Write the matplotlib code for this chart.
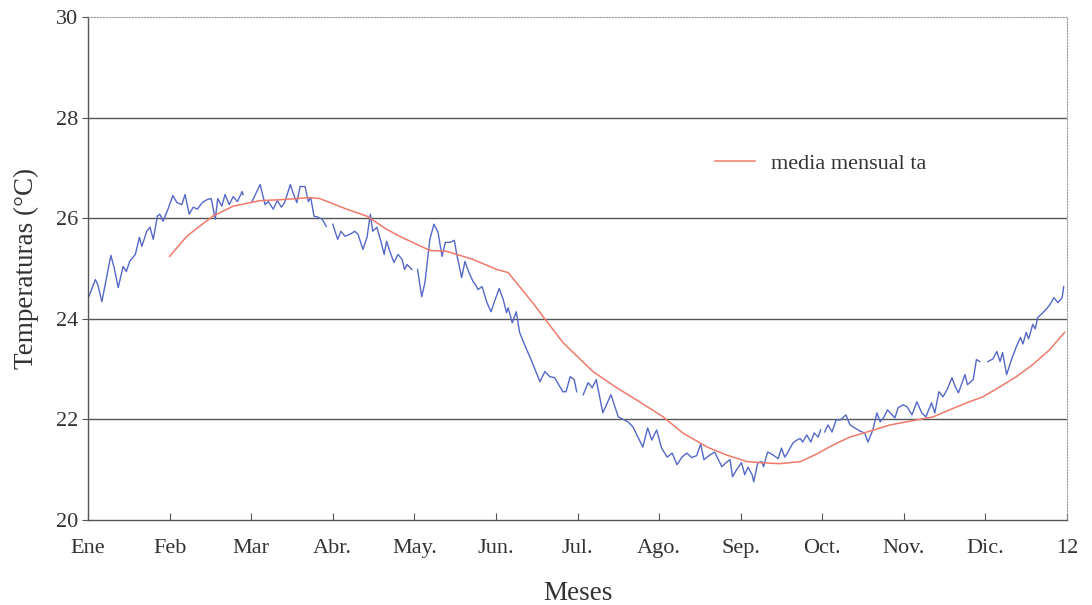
import numpy as np
import matplotlib
matplotlib.use("Agg")
import matplotlib.pyplot as plt

plt.rcParams['font.family'] = ['Liberation Serif', 'DejaVu Serif']

# Etiquetas de meses
month_labels = ['Ene', 'Feb', 'Mar', 'Abr.', 'May.', 'Jun.', 'Jul.', 'Ago.',
                'Sep.', 'Oct.', 'Nov.', 'Dic.', '12']
y_ticks = [20, 22, 24, 26, 28, 30]

# Temperatura diaria (posición en meses, °C); nan = hueco en la serie
daily_x = [
    0.01, 0.09, 0.12, 0.17, 0.23, 0.28, 0.32, 0.37, 0.43, 0.47, 0.51, 0.58, 0.63, 0.66,
    0.72, 0.76, 0.80, 0.85, 0.88, 0.92, 0.98, 1.04, 1.09, 1.15, 1.19, 1.24, 1.29, 1.34,
    1.40, 1.46, 1.51, 1.56, 1.59, 1.64, 1.68, 1.73, 1.78, 1.83, 1.89, 1.90, np.nan,
    2.01, 2.11, 2.17, 2.21, 2.27, 2.32, 2.37, 2.41, 2.48, 2.52, 2.56, 2.60, 2.66, 2.70,
    2.73, 2.77, 2.82, 2.87, 2.92, np.nan,
    3.00, 3.06, 3.10, 3.15, 3.21, 3.27, 3.31, 3.37, 3.42, 3.46, 3.49, 3.54, 3.59, 3.63,
    3.66, 3.70, 3.75, 3.80, 3.85, 3.88, 3.91, 3.97, np.nan,
    4.04, 4.09, 4.13, 4.19, 4.24, 4.29, 4.34, 4.38, 4.44, 4.49, 4.52, 4.58, 4.62, 4.67,
    4.72, 4.75, 4.78, 4.83, 4.89, 4.94, 4.99, 5.04, 5.09, 5.13, 5.15, 5.20, 5.25, 5.29,
    5.36, 5.42, 5.48, 5.54, 5.60, 5.66, 5.72, 5.77, 5.82, 5.86, 5.91, 5.96, 5.99, np.nan,
    6.07, 6.13, 6.18, 6.23, 6.31, 6.41, 6.50, 6.56, 6.62, 6.68, 6.74, 6.80, 6.86, 6.91,
    6.97, 7.03, 7.10, 7.16, 7.22, 7.28, 7.34, 7.40, 7.46, 7.51, 7.55, 7.62, 7.68, 7.77,
    7.82, 7.87, 7.90, 7.95, 8.01, 8.05, 8.09, 8.14, 8.16, 8.21, 8.26, 8.28, 8.33, 8.39,
    8.46, 8.50, 8.54, 8.58, 8.64, 8.69, 8.73, 8.76, 8.81, 8.86, 8.90, 8.95, 8.98, np.nan,
    9.03, 9.07, 9.12, 9.17, 9.22, 9.25, 9.29, 9.34, 9.40, 9.46, 9.52, 9.56, 9.62, 9.67,
    9.71, 9.75, 9.80, 9.85, 9.89, 9.93, 9.99, 10.04, 10.10, 10.16, 10.22, 10.27, 10.34,
    10.38, 10.43, 10.48, 10.53, 10.59, 10.63, 10.67, 10.75, 10.78, 10.85, 10.89, 10.93, np.nan,
    11.03, 11.09, 11.14, 11.18, 11.21, 11.26, 11.32, 11.38, 11.43, 11.46, 11.50, 11.53,
    11.58, 11.61, 11.64, 11.69, 11.74, 11.79, 11.84, 11.89, 11.94, 11.96,
]
daily_t = [
    24.44, 24.78, 24.68, 24.34, 24.84, 25.26, 25.02, 24.62, 25.04, 24.94, 25.14, 25.28, 25.62, 25.44,
    25.74, 25.82, 25.58, 26.04, 26.08, 25.94, 26.18, 26.45, 26.31, 26.27, 26.47, 26.08, 26.22, 26.18,
    26.31, 26.37, 26.39, 25.98, 26.39, 26.24, 26.47, 26.27, 26.43, 26.33, 26.53, 26.47, np.nan,
    26.33, 26.67, 26.27, 26.33, 26.18, 26.35, 26.22, 26.31, 26.67, 26.47, 26.31, 26.63, 26.63, 26.33,
    26.41, 26.04, 26.02, 25.98, 25.84, np.nan,
    25.88, 25.58, 25.74, 25.64, 25.68, 25.74, 25.68, 25.38, 25.62, 26.08, 25.74, 25.82, 25.54, 25.28,
    25.54, 25.34, 25.12, 25.28, 25.18, 24.98, 25.08, 24.98, np.nan,
    24.98, 24.44, 24.72, 25.58, 25.88, 25.72, 25.24, 25.52, 25.52, 25.56, 25.28, 24.82, 25.14, 24.92,
    24.74, 24.68, 24.58, 24.64, 24.32, 24.14, 24.38, 24.60, 24.38, 24.12, 24.22, 23.92, 24.14, 23.73,
    23.45, 23.23, 22.99, 22.75, 22.95, 22.85, 22.83, 22.69, 22.55, 22.55, 22.85, 22.79, 22.55, np.nan,
    22.49, 22.73, 22.63, 22.79, 22.13, 22.49, 22.05, 22.00, 21.95, 21.85, 21.65, 21.45, 21.83, 21.59,
    21.79, 21.43, 21.25, 21.33, 21.10, 21.25, 21.33, 21.24, 21.28, 21.51, 21.20, 21.29, 21.35, 21.06,
    21.14, 21.20, 20.86, 21.00, 21.14, 20.90, 21.05, 20.90, 20.76, 21.14, 21.16, 21.06, 21.35, 21.30,
    21.22, 21.43, 21.25, 21.35, 21.53, 21.59, 21.62, 21.55, 21.69, 21.55, 21.73, 21.65, 21.79, np.nan,
    21.75, 21.89, 21.75, 21.99, 21.99, 22.03, 22.09, 21.89, 21.83, 21.77, 21.73, 21.55, 21.79, 22.13,
    21.95, 22.03, 22.19, 22.10, 22.03, 22.23, 22.29, 22.25, 22.09, 22.35, 22.13, 22.05, 22.33,
    22.13, 22.55, 22.45, 22.59, 22.83, 22.65, 22.53, 22.89, 22.69, 22.79, 23.19, 23.15, np.nan,
    23.15, 23.20, 23.35, 23.15, 23.33, 22.89, 23.19, 23.45, 23.63, 23.50, 23.73, 23.60,
    23.89, 23.80, 24.02, 24.10, 24.18, 24.28, 24.42, 24.32, 24.42, 24.64,
]

# Media mensual
mean_x = [1.00, 1.21, 1.40, 1.53, 1.78, 2.11, 2.39, 2.72, 2.84, 3.17, 3.42, 3.66, 3.82, 4.03,
          4.19, 4.40, 4.72, 5.01, 5.15, 5.29, 5.45, 5.58, 5.82, 6.19, 6.48, 6.76, 7.05, 7.29,
          7.59, 7.83, 8.08, 8.24, 8.48, 8.73, 8.93, 9.13, 9.34, 9.55, 9.83, 10.16, 10.36,
          10.56, 10.77, 10.97, 11.18, 11.38, 11.58, 11.79, 11.97]
mean_t = [25.24, 25.64, 25.88, 26.04, 26.24, 26.35, 26.37, 26.41, 26.39, 26.18, 26.04, 25.78, 25.64, 25.48,
          25.36, 25.34, 25.18, 24.98, 24.92, 24.64, 24.32, 24.04, 23.53, 22.95, 22.63, 22.35, 22.05, 21.73,
          21.45, 21.29, 21.16, 21.14, 21.12, 21.16, 21.31, 21.49, 21.65, 21.75, 21.89, 21.99, 22.05,
          22.19, 22.33, 22.45, 22.65, 22.85, 23.09, 23.39, 23.73]

fig = plt.figure(figsize=(10.92, 6.05), dpi=100)
ax = fig.add_axes([0.0806, 0.1405, 0.8965, 0.8314])

ax.plot(daily_x, daily_t, color='#5468c8', lw=1.0)
ax.plot(mean_x, mean_t, color='#f07a6a', lw=1.1, label='media mensual ta')

ax.set_xlim(0, 12)
ax.set_ylim(20, 30)
ax.set_xticks(range(13))
ax.set_xticklabels(month_labels)
ax.set_yticks(y_ticks)

ax.grid(axis='y', color='#555555', lw=1.0)
gl = ax.yaxis.get_gridlines()
gl[0].set_visible(False)
gl[-1].set_visible(False)

for s in ['left', 'bottom']:
    ax.spines[s].set_color('#555555')
    ax.spines[s].set_linewidth(1.0)
for s in ['top', 'right']:
    ax.spines[s].set_color('#999999')
    ax.spines[s].set_linestyle(':')
    ax.spines[s].set_linewidth(0.8)

ax.tick_params(axis='x', direction='in', length=5, color='#555555',
               labelsize=16, labelcolor='#333333', pad=14)
ax.tick_params(axis='y', direction='out', length=4, color='#555555',
               labelsize=16, labelcolor='#333333', pad=3)

ax.set_xlabel('Meses', fontsize=19.5, color='#333333', labelpad=16)
ax.set_ylabel('Temperaturas (°C)', fontsize=19.5, color='#333333', labelpad=12)

ax.legend(loc='center left', bbox_to_anchor=(0.620, 0.708), frameon=False,
          fontsize=16, handlelength=1.8, handletextpad=0.7,
          labelcolor='#333333')

fig.savefig('out.png', dpi=100)
